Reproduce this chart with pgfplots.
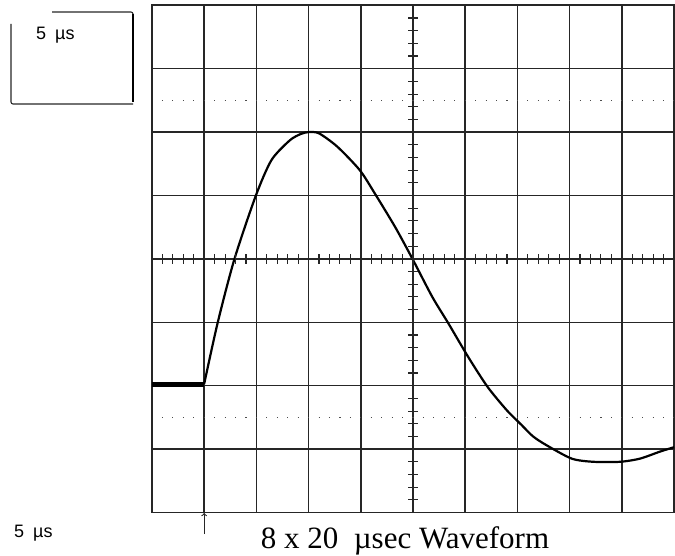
\documentclass[border=0pt]{standalone}
\usepackage{pgfplots}
\pgfplotsset{compat=1.18}
\usepackage{fontspec}
\setmainfont{Liberation Serif}
\newfontfamily\smallsans{Liberation Sans}
\begin{document}
\begin{tikzpicture}[x=1pt,y=1pt]
\path[use as bounding box] (0,0) rectangle (675,555);
\begin{axis}[
  at={(152pt,42.5pt)}, anchor=south west,
  x=52.2pt, y=63.4pt,
  xmin=0, xmax=10, ymin=-4, ymax=4,
  axis line style={black!85, line width=1.6pt},
  xtick={1,...,9}, ytick={-3,...,3},
  xticklabels={}, yticklabels={},
  major tick length=0pt,
  grid=major,
  major grid style={black!85, line width=1.5pt},
  clip=false,
]
\draw[black!70, line width=1.1pt, dash pattern=on 1.1pt off 9.34pt] (axis cs:0.19,2.5) -- (axis cs:10,2.5);
\draw[black!70, line width=1.1pt, dash pattern=on 1.1pt off 9.34pt] (axis cs:0.19,-2.5) -- (axis cs:10,-2.5);
\addplot[black, line width=4.5pt] coordinates {(0,-1.98) (1.0,-1.98)};
\addplot[black, line width=2.2pt, line join=round, smooth, tension=0.45] coordinates {
(1.0,-1.97) (1.26,-1.0) (1.58,0) (1.99,1.0) (2.29,1.56) (2.64,1.87) (2.85,1.97) (3.0,2.0) (3.2,1.98)
(3.55,1.77) (3.98,1.40) (4.27,1.03) (4.66,0.50) (4.99,0) (5.37,-0.60) (5.68,-1.02) (6.06,-1.55)
(6.43,-2.02) (6.80,-2.39) (7.08,-2.62) (7.3,-2.8) (7.56,-2.94) (8.04,-3.15) (8.45,-3.20) (8.97,-3.20)
(9.35,-3.15) (9.73,-3.04) (10.0,-2.97)};
\end{axis}
% centre graticule ticks
\foreach \i in {1,...,49} {\draw[black!85, line width=1.1pt] (152+\i*10.44, 291.1) -- ++(0,10);}
\foreach \j in {1,...,39} {\draw[black!85, line width=1.1pt] (408, 42.5+\j*12.68) -- ++(10,0);}
% top-left box
\draw[black!85, line width=1.1pt, rounded corners=2pt] (11,531) -- (11,451) -- (133,451);
\draw[black!85, line width=1.1pt, rounded corners=2pt] (52,543) -- (133,543) -- (133,538);
\draw[black, line width=2.2pt] (133,541) -- (133,453);
\node[font=\smallsans\fontsize{18}{21}\selectfont, anchor=base west, inner sep=0pt] at (36,515) {5\hspace{9pt}µs};
\node[font=\smallsans\fontsize{18}{21}\selectfont, anchor=base west, inner sep=0pt] at (14,18) {5\hspace{9pt}µs};
% trigger arrow
\draw[black!85, line width=1.1pt, ->] (204.2,21) -- (204.2,42);
% title
\node[font=\fontsize{31}{37}\selectfont, anchor=base, inner sep=0pt] at (405,7) {8 x 20\ \ µsec Waveform};
\end{tikzpicture}
\end{document}
